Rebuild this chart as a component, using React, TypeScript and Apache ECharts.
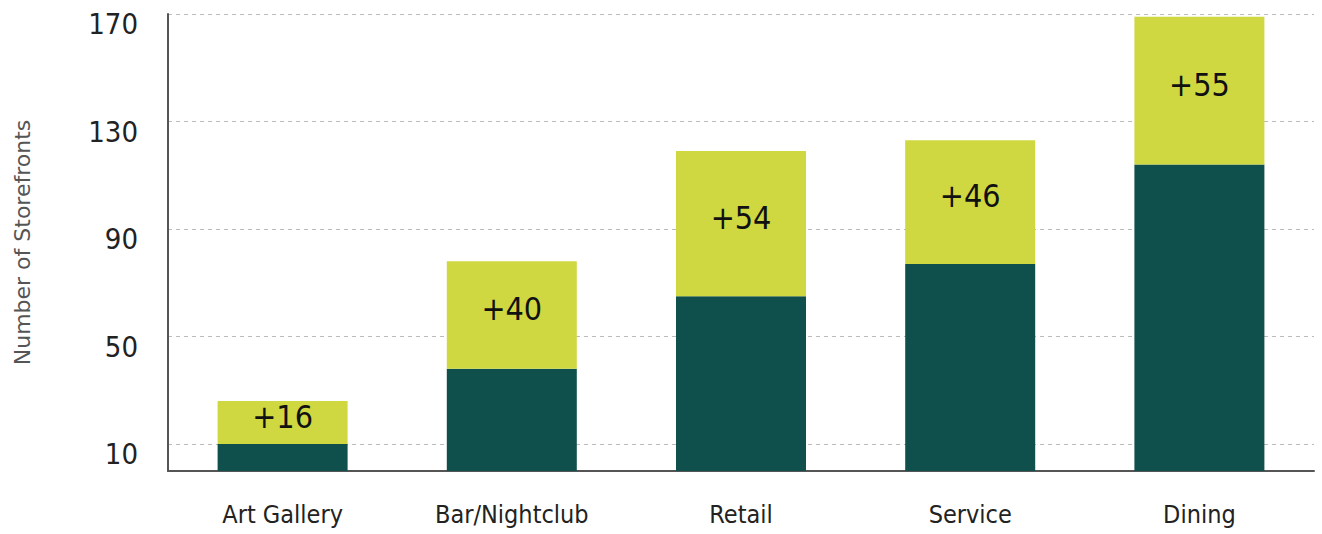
import React, { useEffect, useRef } from "react";
import * as echarts from "echarts";

const categories = ["Art Gallery", "Bar/Nightclub", "Retail", "Service", "Dining"];
const baseValues = [10, 38, 65, 77, 114];
const addedValues = [16, 40, 54, 46, 55];
const yTickValues = [10, 50, 90, 130, 170];

const condensed = '"Liberation Sans Narrow", "DejaVu Sans Condensed", "Roboto", sans-serif';

export default function App() {
  const ref = useRef<HTMLDivElement>(null);
  useEffect(() => {
    const chart = echarts.init(ref.current!, null, { renderer: "svg" });
    chart.setOption({
      animation: false,
      grid: { left: 168, right: 8, top: 14, bottom: 63, outerBoundsMode: "none", containLabel: false },
      xAxis: {
        type: "category",
        data: categories,
        axisLine: { lineStyle: { color: "#555", width: 2 } },
        axisTick: { show: false },
        axisLabel: { color: "#222", fontSize: 25, fontFamily: condensed, margin: 31 },
      },
      yAxis: {
        type: "value",
        min: 0,
        max: 170,
        name: "Number of Storefronts",
        nameLocation: "middle",
        nameGap: 135,
        nameTextStyle: { color: "#555", fontSize: 22, fontFamily: '"DejaVu Sans", sans-serif' },
        axisLine: { show: true, lineStyle: { color: "#555", width: 2 } },
        axisTick: { show: false, customValues: yTickValues },
        axisLabel: {
          customValues: yTickValues,
          color: "#222",
          fontSize: 29,
          fontFamily: condensed,
          margin: 30,
          verticalAlign: "top",
          lineHeight: 20,
        },
        splitLine: { show: true, lineStyle: { color: "#bbb", type: [4, 4], width: 1 } },
      },
      series: [
        {
          type: "bar",
          stack: "total",
          data: baseValues,
          barWidth: 130,
          itemStyle: { color: "#0f4f4c" },
        },
        {
          type: "bar",
          stack: "total",
          data: addedValues,
          barWidth: 130,
          itemStyle: { color: "#cfd841" },
          label: {
            show: true,
            position: "inside",
            offset: [0, -6],
            formatter: (p: any) => "+" + p.value,
            color: "#111",
            fontSize: 32,
            fontFamily: condensed,
          },
        },
      ],
    });
    return () => chart.dispose();
  }, []);
  return (
    <div
      ref={ref}
      style={{ position: "absolute", left: 0, top: 0, width: 1322, height: 534 }}
    />
  );
}
